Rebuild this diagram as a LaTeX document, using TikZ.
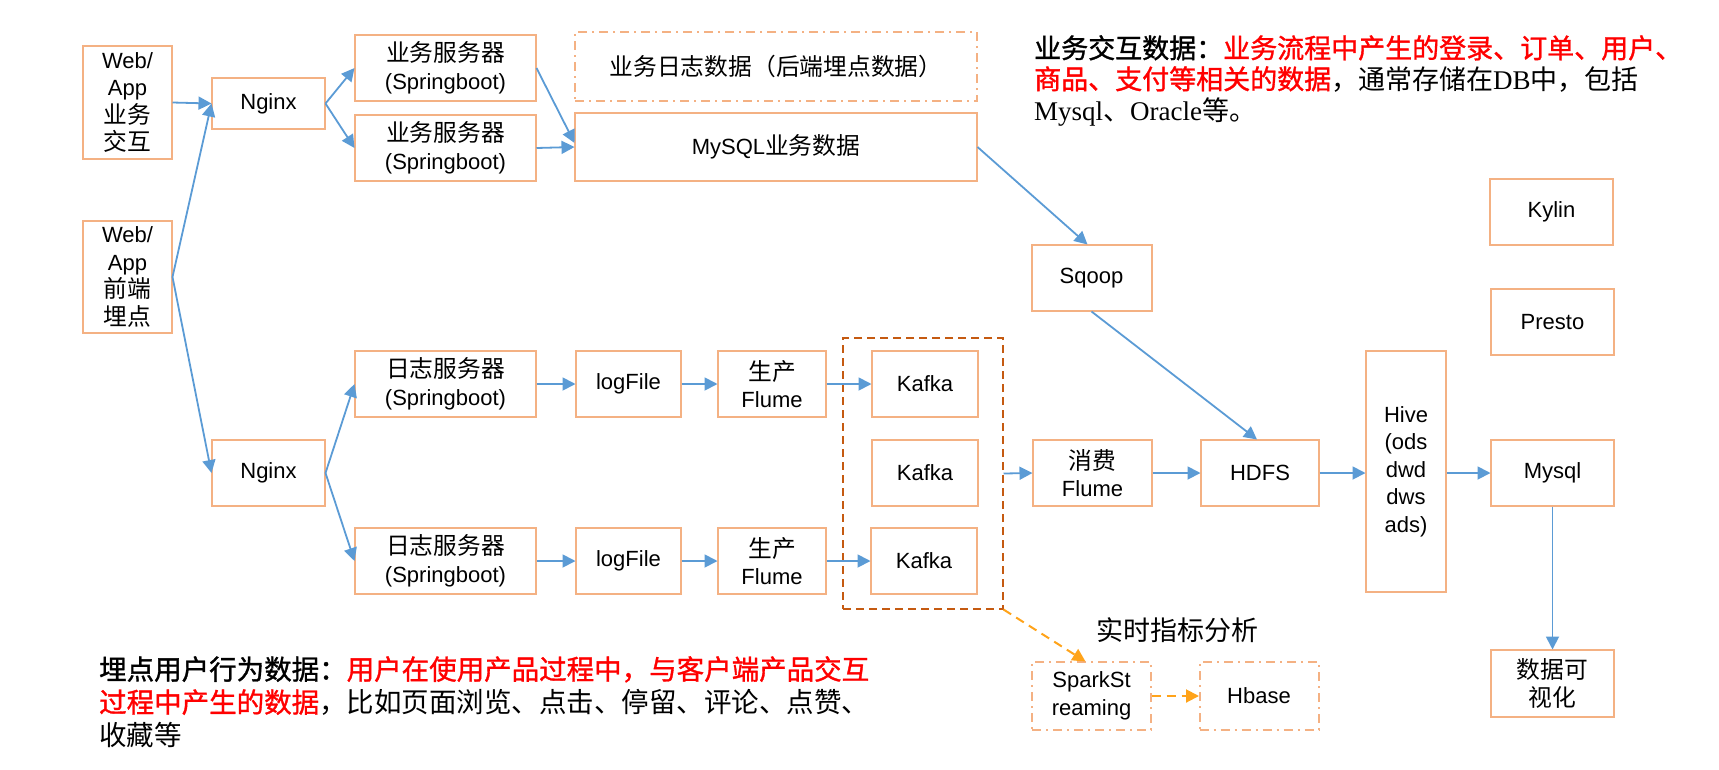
\documentclass[tikz,border=0pt]{standalone}
\usepackage{fontspec}
\setmainfont{Liberation Sans}
\newfontfamily\cjk{Noto Sans CJK SC}
\newfontfamily\cjkh[FakeBold=1.2]{Noto Sans CJK SC}
\newfontfamily\cjkb[Scale=1.08]{Noto Sans CJK SC}
\newfontfamily\tms{Liberation Serif}
\usetikzlibrary{arrows.meta}
\definecolor{boxc}{HTML}{F4B183}
\definecolor{arrc}{HTML}{5B9BD5}
\definecolor{kafc}{HTML}{C55A11}
\definecolor{orc}{HTML}{FFA31A}
\begin{document}
\begin{tikzpicture}[x=1pt,y=-1pt,
  box/.style={draw=boxc, line width=2pt, inner sep=0pt, outer sep=0.5pt, align=center,
              font=\fontsize{22}{27.5}\selectfont},
  dbox/.style={box, dash pattern=on 9pt off 5pt on 2pt off 5pt},
  arr/.style={draw=arrc, line width=1.8pt, -{Triangle[length=13pt,width=13pt]}},
  oarr/.style={draw=orc, line width=2pt, dash pattern=on 9pt off 6pt, -{Triangle[length=13pt,width=13pt]}},
  note/.style={anchor=north west, inner sep=0pt, align=left},
]
\useasboundingbox (0,0) rectangle (1719,769);

% left column
\node[box, minimum width=89pt, minimum height=113pt] (wa1) at (127.5,102.5) {Web/\\App\\{\cjkb 业务}\\{\cjkb 交互}};
\node[box, minimum width=89pt, minimum height=112pt] (wa2) at (127.5,277) {Web/\\App\\{\cjkb 前端}\\{\cjkb 埋点}};

% nginx
\node[box, minimum width=113pt, minimum height=51pt] (ng1) at (268.5,103.5) {Nginx};
\node[box, minimum width=113pt, minimum height=66pt] (ng2) at (268.5,473) {Nginx};

% business servers
\node[box, minimum width=181pt, minimum height=66pt] (s1) at (445.5,68) {{\cjkb 业务服务器}\\(Springboot)};
\node[box, minimum width=181pt, minimum height=66pt] (s2) at (445.5,148) {{\cjkb 业务服务器}\\(Springboot)};

\node[dbox, minimum width=402pt, minimum height=69pt] (logd) at (776,66.5) {{\cjkb 业务日志数据（后端埋点数据）}};
\node[box, minimum width=402pt, minimum height=68pt] (mysqlb) at (776,147) {MySQL{\cjkb 业务数据}};

\node[box, minimum width=120pt, minimum height=66pt] (sqoop) at (1091.5,278) {Sqoop};
\node[box, minimum width=123pt, minimum height=66pt] (kylin) at (1551.5,212) {Kylin};
\node[box, minimum width=123pt, minimum height=66pt] (presto) at (1552.5,322) {Presto};

% log servers rows
\node[box, minimum width=181pt, minimum height=66pt] (l1) at (445.5,384) {{\cjkb 日志服务器}\\(Springboot)};
\node[box, minimum width=181pt, minimum height=66pt] (l2) at (445.5,561) {{\cjkb 日志服务器}\\(Springboot)};
\node[box, minimum width=105pt, minimum height=66pt] (lf1) at (628.5,384) {logFile};
\node[box, minimum width=105pt, minimum height=66pt] (lf2) at (628.5,561) {logFile};
\node[box, minimum width=108pt, minimum height=66pt] (pf1) at (772,384) {{\cjkb 生产}\\Flume};
\node[box, minimum width=108pt, minimum height=66pt] (pf2) at (772,561) {{\cjkb 生产}\\Flume};

% kafka cluster
\node[draw=kafc, line width=2pt, dash pattern=on 8pt off 5pt, inner sep=0pt, outer sep=0.5pt,
      minimum width=160pt, minimum height=271pt] (kbox) at (923,473.5) {};
\node[box, minimum width=106pt, minimum height=66pt] (k1) at (925,384) {Kafka};
\node[box, minimum width=106pt, minimum height=66pt] (k2) at (925,473) {Kafka};
\node[box, minimum width=106pt, minimum height=66pt] (k3) at (924,561) {Kafka};

\node[box, minimum width=119pt, minimum height=66pt] (cf) at (1092.5,473) {{\cjkb 消费}\\Flume};
\node[box, minimum width=118pt, minimum height=66pt] (hdfs) at (1260,473) {HDFS};
\node[box, minimum width=80pt, minimum height=241pt] (hive) at (1406,471.5) {Hive\\(ods\\dwd\\dws\\ads)};
\node[box, minimum width=123pt, minimum height=66pt] (mysql) at (1552.5,473) {Mysql};
\node[box, minimum width=123pt, minimum height=67pt] (vis) at (1552.5,683.5) {{\cjkb 数据可}\\{\cjkb 视化}};

% realtime
\node[inner sep=0pt, font=\fontsize{27}{31}\selectfont\cjk] (rt) at (1177.5,630) {实时指标分析};
\node[dbox, minimum width=119pt, minimum height=68pt] (spark) at (1091.5,696) {SparkSt\\reaming};
\node[dbox, minimum width=119pt, minimum height=68pt] (hbase) at (1259,696) {Hbase};

% arrows
\draw[arr] (wa1.east) -- (ng1.west);
\draw[arr] (wa2.east) -- (ng1.west);
\draw[arr] (wa2.east) -- (ng2.west);
\draw[arr] (ng1.east) -- (s1.west);
\draw[arr] (ng1.east) -- (s2.west);
\draw[arr] (s1.east) -- ([yshift=4pt]mysqlb.west);
\draw[arr] (s2.east) -- (mysqlb.west);
\draw[arr] (mysqlb.east) -- ([xshift=-4pt]sqoop.north);
\draw[arr] (sqoop.south) -- ([xshift=-3pt]hdfs.north);
\draw[arr] (ng2.east) -- (l1.west);
\draw[arr] (ng2.east) -- (l2.west);
\draw[arr] (l1.east) -- (lf1.west);
\draw[arr] (lf1.east) -- (pf1.west);
\draw[arr] (pf1.east) -- (k1.west);
\draw[arr] (l2.east) -- (lf2.west);
\draw[arr] (lf2.east) -- (pf2.west);
\draw[arr] (pf2.east) -- (k3.west);
\draw[arr] (kbox.east) -- (cf.west);
\draw[arr] (cf.east) -- (hdfs.west);
\draw[arr] (hdfs.east) -- (hive.west |- hdfs.east);
\draw[arr] (hive.east |- mysql.west) -- (mysql.west);
\draw[arr] (mysql.south) -- (vis.north);
\draw[oarr] (kbox.south east) -- ([xshift=-6pt]spark.north);
\draw[oarr] (spark.east) -- (hbase.west);

% notes
\node[note, font=\fontsize{27}{31}\selectfont\tms] (t1) at (1034,35)
 {{\cjkh 业务交互数据：}{\color{red}\cjkh 业务流程中产生的登录、订单、用户、}\\
  {\color{red}\cjkh 商品、支付等相关的数据}{\cjk ，通常存储在}DB{\cjk 中，包括}\\
  Mysql{\cjk 、}Oracle{\cjk 等。}};
\node[note, font=\fontsize{27.5}{33}\selectfont\tms] (t2) at (99,656)
 {{\cjkh 埋点用户行为数据：}{\color{red}\cjkh 用户在使用产品过程中，与客户端产品交互}\\
  {\color{red}\cjkh 过程中产生的数据}{\cjk ，比如页面浏览、点击、停留、评论、点赞、}\\
  {\cjk 收藏等}};
\end{tikzpicture}
\end{document}
